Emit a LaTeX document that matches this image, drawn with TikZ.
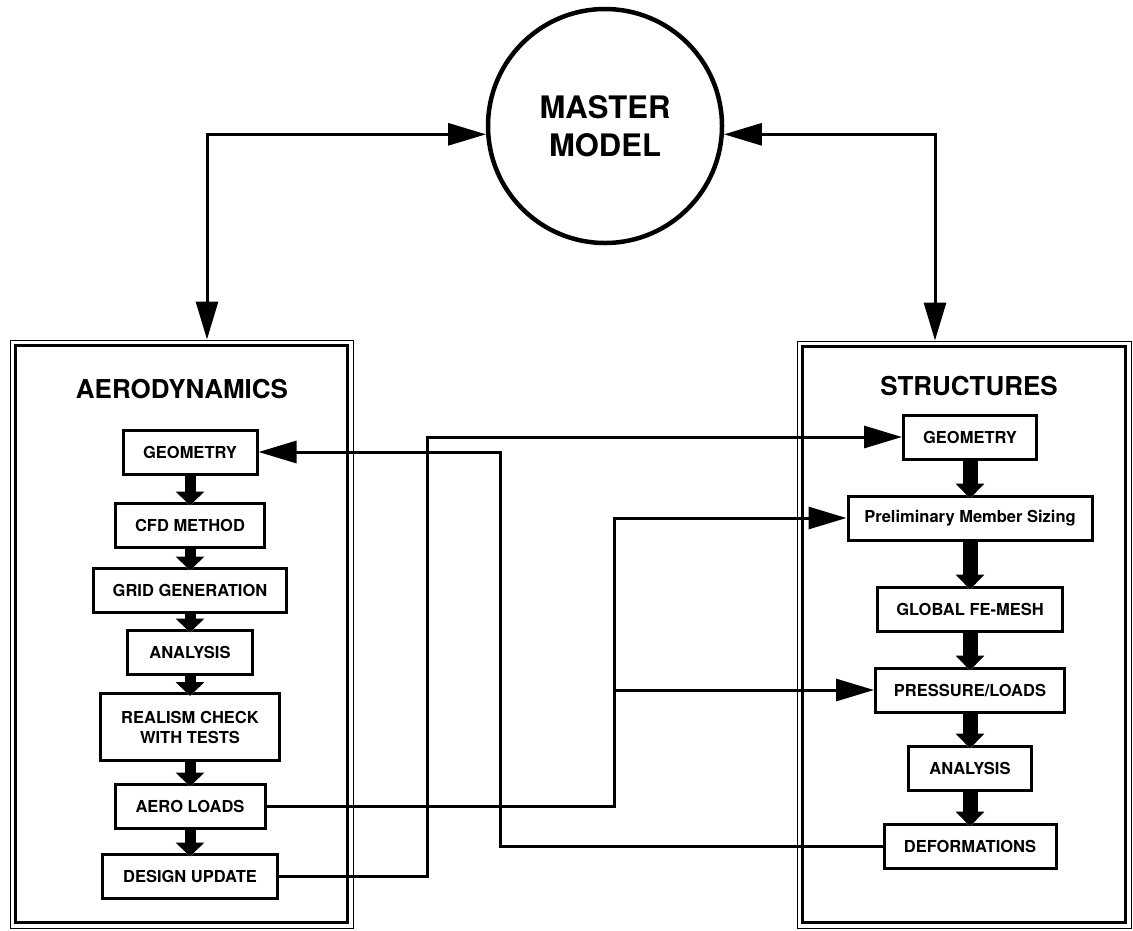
\documentclass[tikz,border=0pt]{standalone}
\usepackage{fontspec}
\setmainfont{TeX Gyre Heros}
\usetikzlibrary{arrows.meta,calc}

\begin{document}
\begin{tikzpicture}[x=1pt,y=-1pt,
  stepbox/.style={draw,line width=3pt,minimum height=44pt,inner sep=2pt,align=center,
    font=\fontsize{16.5}{20}\selectfont\bfseries},
  flowA/.style={preaction={draw=white,line width=15pt,-{Triangle[length=16pt,width=34pt]}},
    line width=11pt,shorten >=-4pt,-{Triangle[length=14pt,width=28pt]}},
  flowS/.style={preaction={draw=white,line width=19pt,-{Triangle[length=17pt,width=34pt]}},
    line width=15pt,shorten >=-4pt,-{Triangle[length=15pt,width=28pt]}},
  link/.style={line width=3pt,-{Triangle[length=38pt,width=22pt]}},
  twoway/.style={line width=3pt,{Triangle[length=38pt,width=22pt]}-{Triangle[length=38pt,width=22pt]}},
  heading/.style={font=\fontsize{26}{30}\selectfont\bfseries}]

\useasboundingbox (0,0) rectangle (1133,930);

% master model
\node[draw,circle,line width=4.5pt,minimum size=234pt,inner sep=0pt,align=center,
  font=\fontsize{31}{38}\selectfont\bfseries] (master) at (605,126) {MASTER\\MODEL};

% the two frames
\node[draw,line width=1pt,minimum width=343pt,minimum height=588pt,inner sep=0pt] (aerof) at (181.5,634) {};
\draw[line width=3pt] ($(aerof.north west)+(6,6)$) rectangle ($(aerof.south east)+(-6,-6)$);
\node[draw,line width=1pt,minimum width=334pt,minimum height=587pt,inner sep=0pt] (structf) at (964,634.5) {};
\draw[line width=3pt] ($(structf.north west)+(6,6)$) rectangle ($(structf.south east)+(-6,-6)$);

\node[heading] (aerot) at (182,389) {AERODYNAMICS};
\node[heading] (structt) at (969,386) {STRUCTURES};

% aerodynamics chain
\node[stepbox,minimum width=134pt] (geoA) at (190,452) {GEOMETRY};
\node[stepbox,minimum width=149pt] (cfdA) at (190,525) {CFD METHOD};
\node[stepbox,minimum width=193pt] (gridA) at (190,590) {GRID GENERATION};
\node[stepbox,minimum width=125pt] (anaA) at (190,652) {ANALYSIS};
\node[stepbox,minimum width=179pt,minimum height=67pt] (realA) at (190,727) {REALISM CHECK\\WITH TESTS};
\node[stepbox,minimum width=150pt] (loadA) at (190,806) {AERO LOADS};
\node[stepbox,minimum width=175pt] (desA) at (190,876) {DESIGN UPDATE};

\draw[flowA] (geoA) -- (cfdA);
\draw[flowA] (cfdA) -- (gridA);
\draw[flowA] (gridA) -- (anaA);
\draw[flowA] (anaA) -- (realA);
\draw[flowA] (realA) -- (loadA);
\draw[flowA] (loadA) -- (desA);

% structures chain
\node[stepbox,minimum width=133pt] (geoS) at (970,437) {GEOMETRY};
\node[stepbox,minimum width=244pt] (prelS) at (970,518) {Preliminary Member Sizing};
\node[stepbox,minimum width=185pt] (meshS) at (970,609) {GLOBAL FE-MESH};
\node[stepbox,minimum width=189pt] (presS) at (970,690) {PRESSURE/LOADS};
\node[stepbox,minimum width=123pt] (anaS) at (970,768) {ANALYSIS};
\node[stepbox,minimum width=172pt] (defS) at (970,846) {DEFORMATIONS};

\draw[flowS] (geoS) -- (prelS);
\draw[flowS] (prelS) -- (meshS);
\draw[flowS] (meshS) -- (presS);
\draw[flowS] (presS) -- (anaS);
\draw[flowS] (anaS) -- (defS);

% master model links
\coordinate (lx) at (207,0);
\coordinate (rx) at (935,0);
\draw[twoway] (master.184) -| (lx |- aerof.north);
\draw[twoway] (master.356) -| (rx |- structf.north);

% cross links
\coordinate (j1) at (427,0);
\coordinate (j2) at (500,0);
\coordinate (j3) at (614,0);
\draw[link] (desA.east) -| (j1 |- geoS.west) -- (geoS.west);
\draw[link] (defS.west) -| (j2 |- geoA.east) -- (geoA.east);
\draw[link] (loadA.east) -| (j3 |- prelS.west) -- (prelS.west);
\draw[link] (j3 |- presS.west) -- (presS.west);

\end{tikzpicture}
\end{document}
